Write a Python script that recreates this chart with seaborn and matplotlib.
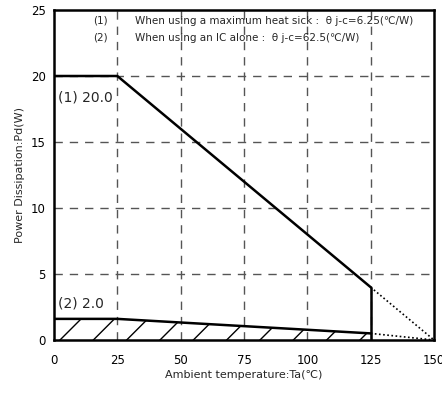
import matplotlib
matplotlib.use("Agg")
import matplotlib.pyplot as plt
import seaborn as sns
import pandas as pd

sns.set_theme(style="white")
plt.rcParams['font.family'] = ['DejaVu Sans', 'Noto Sans CJK JP']
plt.rcParams['hatch.linewidth'] = 1.0

# data
ta_1 = [0, 25, 125]
pd_1 = [20.0, 20.0, 4.0]
ta_1_dot = [125, 150]
pd_1_dot = [4.0, 0.0]
ta_2 = [0, 25, 125]
pd_2 = [1.6, 1.6, 0.5]
ta_2_dot = [125, 150]
pd_2_dot = [0.5, 0.0]
xticks = [0, 25, 50, 75, 100, 125, 150]
yticks = [0, 5, 10, 15, 20, 25]

fig = plt.figure(figsize=(4.42, 3.94), dpi=100)
ax = fig.add_axes([54/442, 1-340/394, 380/442, 330/394])

df1 = pd.DataFrame({"Ta": ta_1, "Pd": pd_1})
df2 = pd.DataFrame({"Ta": ta_2, "Pd": pd_2})
sns.lineplot(data=df1, x="Ta", y="Pd", ax=ax, color="black", lw=1.8)
sns.lineplot(data=df2, x="Ta", y="Pd", ax=ax, color="black", lw=1.8)
ax.plot(ta_1_dot, pd_1_dot, color="black", lw=1.2, ls=(0, (1, 1.5)))
ax.plot(ta_2_dot, pd_2_dot, color="black", lw=1.2, ls=(0, (1, 1.5)))
ax.vlines(ta_1[-1], 0, pd_1[-1], color="black", lw=1.8)
ax.fill_between(ta_2, 0, pd_2, facecolor="none", edgecolor="black", hatch="/", lw=0)

for x in xticks[1:-1]:
    ax.axvline(x, color="#555555", lw=1.0, ls=(0, (6, 5)), zorder=0)
for y in yticks[1:-1]:
    ax.axhline(y, color="#555555", lw=1.0, ls=(0, (6, 5)), zorder=0)

ax.set_xlim(0, 150)
ax.set_ylim(0, 25)
ax.set_xticks(xticks)
ax.set_yticks(yticks)
ax.tick_params(direction="in", length=4, width=1, labelsize=8.5, colors="black", pad=6)
ax.tick_params(axis="x", length=0, pad=10)
for s in ax.spines.values():
    s.set_color("black")
    s.set_linewidth(1.8)

ax.set_xlabel("Ambient temperature:Ta(℃)", fontsize=8, labelpad=2)
ax.set_ylabel("Power Dissipation:Pd(W)", fontsize=8, labelpad=4)

ax.text(18.5, 24.2, "(1)", fontsize=7.5, ha="center", va="center")
ax.text(18.5, 22.9, "(2)", fontsize=7.5, ha="center", va="center")
ax.text(32, 24.2, "When using a maximum heat sick :  θ j-c=6.25(℃/W)", fontsize=7.5, va="center")
ax.text(32, 22.9, "When using an IC alone :  θ j-c=62.5(℃/W)", fontsize=7.5, va="center")
ax.text(1.5, 18.4, "(1) 20.0", fontsize=10, va="center")
ax.text(1.5, 2.8, "(2) 2.0", fontsize=10, va="center")

fig.savefig("out.png", dpi=100)
